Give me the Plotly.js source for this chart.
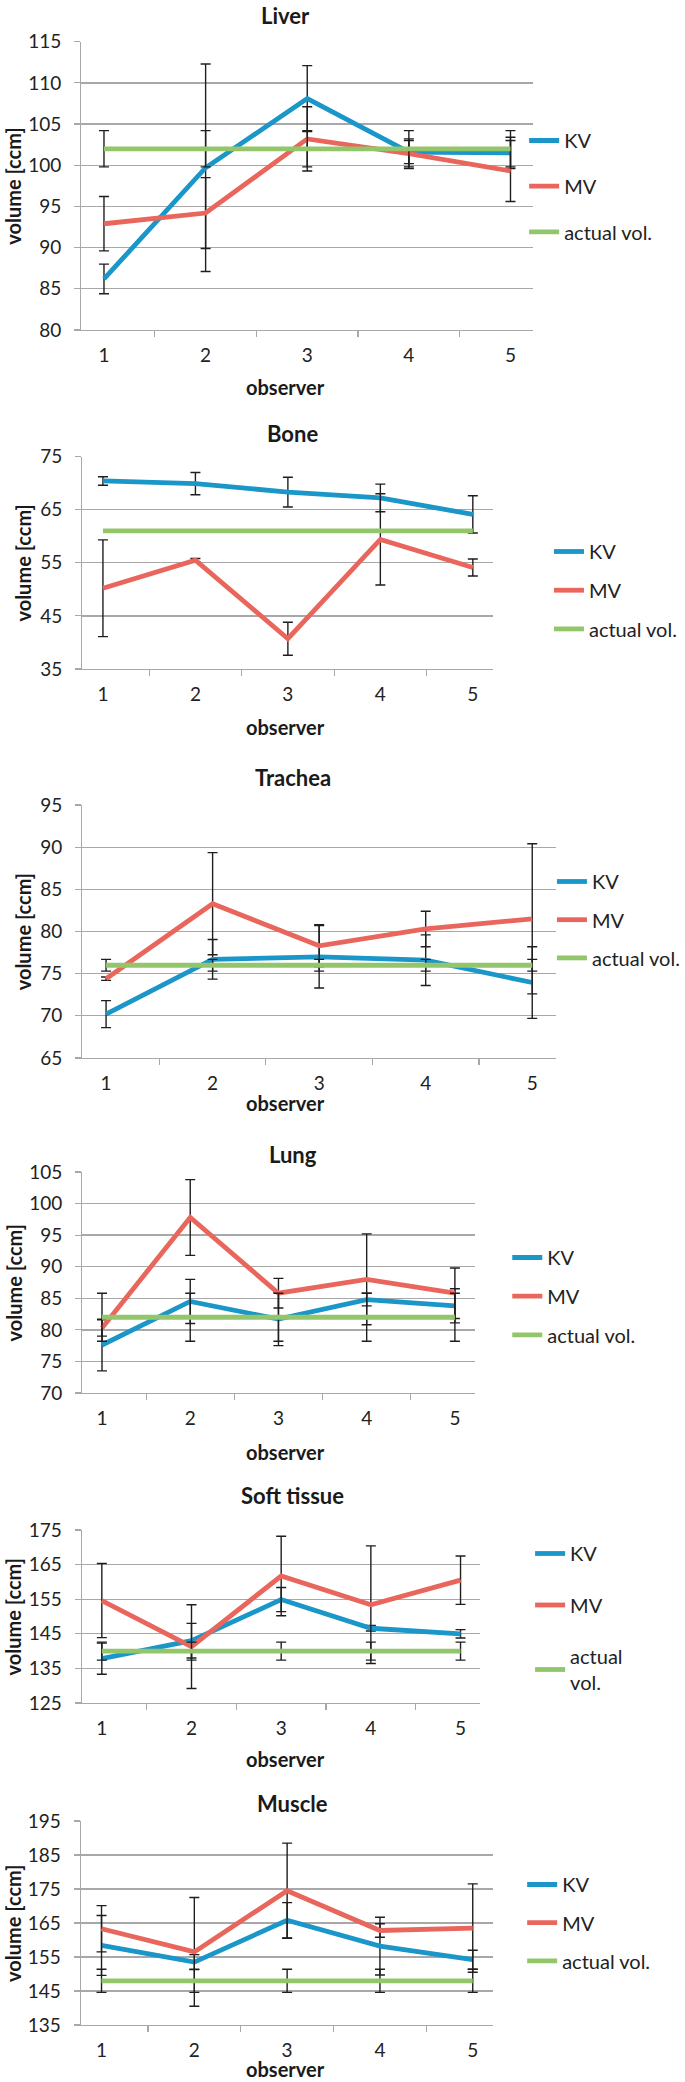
<!DOCTYPE html>
<html>
<head>
<meta charset="utf-8">
<script src="https://cdn.plot.ly/plotly-3.0.1.min.js"></script>
<style>html,body{margin:0;padding:0;background:#fff;}#chart{width:685px;height:2082px;}</style>
</head>
<body>
<div id="chart"></div>
<script>
// ---------- DATA ----------
const observers = ['1', '2', '3', '4', '5'];
const seriesNames = ['KV', 'MV', 'actual vol.'];
const panelTitles = ['Liver', 'Bone', 'Trachea', 'Lung', 'Soft tissue', 'Muscle'];

const liverKV = [86.2, 99.7, 108.1, 101.6, 101.5];
const liverKVErr = [1.8, 12.6, 4.0, 1.4, 1.9];
const liverMV = [92.9, 94.2, 103.2, 101.4, 99.3];
const liverMVErr = [3.3, 4.3, 3.9, 1.8, 3.7];
const liverActual = [102, 102, 102, 102, 102];
const liverActualErr = [2.2, 2.2, 2.2, 2.2, 2.2];

const boneKV = [70.4, 69.9, 68.3, 67.2, 64.1];
const boneKVErr = [0.8, 2.1, 2.8, 2.6, 3.5];
const boneMV = [50.2, 55.5, 40.7, 59.4, 54.1];
const boneMVErr = [9.1, 0.3, 3.1, 8.6, 1.6];
const boneActual = [61, 61, 61, 61, 61];
const boneActualErr = [0, 0, 0, 0, 0];

const tracheaKV = [70.2, 76.7, 77.0, 76.6, 73.95];
const tracheaKVErr = [1.6, 2.35, 3.7, 3.0, 4.25];
const tracheaMV = [74.4, 83.3, 78.3, 80.3, 81.5];
const tracheaMVErr = [0.2, 6.05, 2.5, 2.1, 8.9];
const tracheaActual = [76, 76, 76, 76, 76];
const tracheaActualErr = [0.7, 0.7, 0.7, 0.7, 0.7];

const lungKV = [77.6, 84.5, 81.7, 84.8, 83.8];
const lungKVErr = [4.1, 3.5, 4.2, 1.0, 2.7];
const lungMV = [80.3, 97.8, 85.8, 88.0, 85.8];
const lungMVErr = [1.3, 6.0, 2.35, 7.2, 4.0];
const lungActual = [82, 82, 82, 82, 82];
const lungActualErr = [3.8, 3.8, 3.8, 3.8, 3.8];

const softKV = [137.8, 143.0, 154.9, 146.6, 145.0];
const softKVErr = [4.5, 5.0, 3.5, 0.8, 1.2];
const softMV = [154.6, 141.3, 161.7, 153.4, 160.5];
const softMVErr = [10.7, 12.1, 11.5, 17.0, 7.0];
const softActual = [140, 140, 140, 140, 140];
const softActualErr = [2.6, 2.6, 2.6, 2.6, 2.6];

const muscleKV = [158.4, 153.5, 165.8, 158.2, 154.2];
const muscleKVErr = [8.8, 2.2, 5.2, 8.5, 2.8];
const muscleMV = [163.3, 156.5, 174.5, 162.8, 163.5];
const muscleMVErr = [6.8, 16.0, 14.0, 2.0, 13.0];
const muscleActual = [148, 148, 148, 148, 148];
const muscleActualErr = [3.4, 3.4, 3.4, 3.4, 3.4];

const yRanges = [[80, 115], [35, 75], [65, 95], [70, 105], [125, 175], [135, 195]];
const yDticks = [5, 10, 5, 5, 10, 10];

// ---------- LAYOUT / STYLE ----------
const W = 685, H = 2082;
const FONT = 'Lato, "Liberation Sans", Arial, sans-serif';
const COLORS = ['#1A96C8', '#E9665D', '#93C66B'];
const GRID = '#A8A8A8';

const panelData = [
  [liverKV, liverKVErr, liverMV, liverMVErr, liverActual, liverActualErr],
  [boneKV, boneKVErr, boneMV, boneMVErr, boneActual, boneActualErr],
  [tracheaKV, tracheaKVErr, tracheaMV, tracheaMVErr, tracheaActual, tracheaActualErr],
  [lungKV, lungKVErr, lungMV, lungMVErr, lungActual, lungActualErr],
  [softKV, softKVErr, softMV, softMVErr, softActual, softActualErr],
  [muscleKV, muscleKVErr, muscleMV, muscleMVErr, muscleActual, muscleActualErr]
];

// pixel geometry of each panel: plot left/right/top/bottom, title y, x-title y, y-title x, legend
const geom = [
  {l: 82, r: 537, t: 41.7, b: 330, ty: 15, tx: 288, oy: 387, yx: 13, lx: 528, ly: 135, gap: 16.7},
  {l: 83, r: 497, t: 456.5, b: 669, ty: 433, tx: 295, oy: 727, yx: 23, lx: 553, ly: 546, gap: 9.7},
  {l: 83, r: 560, t: 805, b: 1058, ty: 778, tx: 295, oy: 1103, yx: 23, lx: 556, ly: 876, gap: 9.2},
  {l: 83, r: 478, t: 1172, b: 1393, ty: 1154, tx: 295, oy: 1452, yx: 14, lx: 511, ly: 1252, gap: 9.7},
  {l: 82.5, r: 484, t: 1530, b: 1703, ty: 1495, tx: 295, oy: 1759, yx: 13, lx: 534, ly: 1548, gap: 22.5},
  {l: 81.5, r: 497, t: 1821, b: 2025, ty: 1803, tx: 295, oy: 2069, yx: 13, lx: 526, ly: 1879, gap: 9.2}
];

const traces = [];
const layout = {
  width: W, height: H,
  margin: {l: 0, r: 0, t: 0, b: 0},
  paper_bgcolor: '#fff', plot_bgcolor: '#fff',
  showlegend: true,
  font: {family: FONT, color: '#222'},
  annotations: []
};

panelData.forEach((d, i) => {
  const n = i + 1;
  const g = geom[i];
  const xa = 'x' + (n === 1 ? '' : n), ya = 'y' + (n === 1 ? '' : n);
  const lg = 'legend' + (n === 1 ? '' : n);
  for (let s = 0; s < 3; s++) {
    const err = d[s * 2 + 1];
    const hasErr = err.some(v => v > 0);
    let name = seriesNames[s];
    if (i === 4 && s === 2) name = 'actual<br>vol.';
    traces.push({
      type: 'scatter', mode: 'lines',
      x: observers, y: d[s * 2],
      xaxis: xa, yaxis: ya,
      name: name, legend: lg, legendgroup: 'g' + n + '_' + s,
      line: {color: COLORS[s], width: 4.8},
      error_y: {type: 'data', array: err, visible: hasErr, color: '#1E1E1E', thickness: 1.4, width: 5},
      hoverinfo: 'skip'
    });
  }
  layout['xaxis' + (n === 1 ? '' : n)] = {
    domain: [g.l / W, g.r / W], anchor: ya,
    type: 'category', tickson: 'boundaries',
    ticks: 'outside', ticklen: 6, tickcolor: GRID, tickwidth: 1.2,
    showline: true, linecolor: GRID, linewidth: 1.3,
    showgrid: false, zeroline: false,
    tickfont: {family: FONT, size: 19, color: '#222'},
    ticklabelstandoff: 8, fixedrange: true
  };
  layout['yaxis' + (n === 1 ? '' : n)] = {
    domain: [1 - g.b / H, 1 - g.t / H], anchor: xa,
    range: yRanges[i], dtick: yDticks[i], tick0: yRanges[i][0],
    ticks: 'outside', ticklen: 6, tickcolor: GRID, tickwidth: 1.2,
    showline: true, linecolor: GRID, linewidth: 1.3,
    showgrid: true, gridcolor: GRID, gridwidth: 1.3, zeroline: false,
    tickfont: {family: FONT, size: 19, color: '#222'},
    ticklabelstandoff: 9, fixedrange: true
  };
  layout[lg] = {
    x: g.lx / W, y: 1 - (g.ly - 14) / H,
    xanchor: 'left', yanchor: 'top',
    bgcolor: 'rgba(0,0,0,0)', borderwidth: 0,
    font: {family: FONT, size: 20, color: '#222'},
    tracegroupgap: g.gap, itemclick: false, itemdoubleclick: false
  };
  layout.annotations.push({
    text: panelTitles[i], xref: 'paper', yref: 'paper',
    x: g.tx / W, y: 1 - g.ty / H, xanchor: 'center', yanchor: 'middle',
    showarrow: false, font: {family: FONT, size: 22, weight: 700, color: '#1a1a1a'}
  });
  layout.annotations.push({
    text: 'observer', xref: 'paper', yref: 'paper',
    x: 288 / W, y: 1 - g.oy / H, xanchor: 'center', yanchor: 'middle',
    showarrow: false, font: {family: FONT, size: 20, weight: 700, color: '#1a1a1a'}
  });
  layout.annotations.push({
    text: 'volume [ccm]', xref: 'paper', yref: 'paper',
    x: g.yx / W, y: 1 - ((g.t + g.b) / 2) / H, xanchor: 'center', yanchor: 'middle',
    textangle: -90,
    showarrow: false, font: {family: FONT, size: 20, weight: 700, color: '#1a1a1a'}
  });
});

Plotly.newPlot('chart', traces, layout, {staticPlot: true, displayModeBar: false});
</script>
</body>
</html>
